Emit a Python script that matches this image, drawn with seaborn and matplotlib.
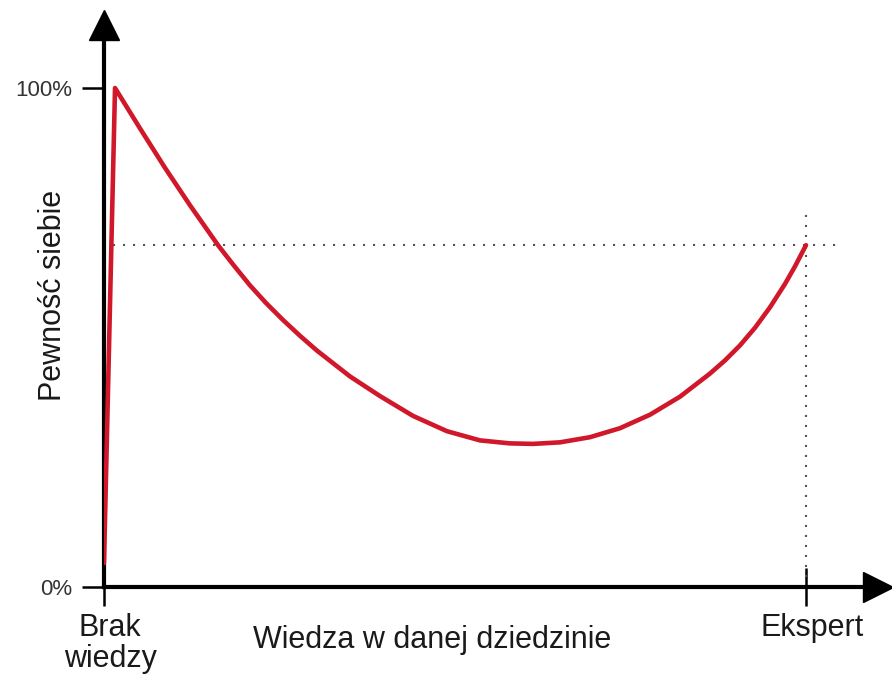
import matplotlib
matplotlib.use("Agg")
import matplotlib.pyplot as plt
import matplotlib.transforms as mtransforms
import seaborn as sns
import pandas as pd

# --- data ---
wiedza = [0, 1.57, 5.13, 8.69, 12.25, 16.24, 18.52, 20.80, 23.08, 25.50,
          27.92, 30.34, 35.04, 39.32, 44.02, 48.86, 53.56, 57.83, 61.11,
          64.96, 69.23, 73.50, 77.78, 82.05, 86.32, 88.46, 90.60, 92.74,
          94.87, 97.01, 98.43, 100]
pewnosc = [4.8, 100.0, 91.9, 84.0, 76.5, 68.5, 64.39, 60.44, 56.91, 53.51,
           50.34, 47.37, 42.2, 38.26, 34.29, 31.22, 29.38, 28.78, 28.68,
           28.99, 30.02, 31.82, 34.53, 38.14, 42.77, 45.41, 48.42, 51.96,
           56.05, 60.74, 64.25, 68.5]

x_tick_pos = [0, 100]
x_tick_labels = ["Brak\nwiedzy", "Ekspert"]
y_tick_pos = [0, 100]
y_tick_labels = ["0%", "100%"]
expert_level = 68.5
x_label = "Wiedza w danej dziedzinie"
y_label = "Pewność siebie"

sns.set_theme(style="white")
plt.rcParams["font.family"] = ["Liberation Sans", "DejaVu Sans"]

W, H = 892, 679
fig = plt.figure(figsize=(W / 100, H / 100), dpi=100)
ax = fig.add_axes([104 / W, 1 - 587 / H, (878 - 104) / W, (587 - 25) / H])

df = pd.DataFrame({"wiedza": wiedza, "pewnosc": pewnosc})
sns.lineplot(data=df, x="wiedza", y="pewnosc", sort=False, color="#d0182a",
             lw=3.3, ax=ax, solid_joinstyle="round", zorder=3)

ax.set_xlim(0, (878 - 104) / 7.02)
ax.set_ylim(0, (587 - 25) / 4.99)

# dotted guide lines
dot = (0, (1, 3.8))
ax.plot([1.3, (842 - 104) / 7.02], [expert_level, expert_level],
        ls=dot, color="#555555", lw=1.5, zorder=2)
ax.plot([x_tick_pos[1], x_tick_pos[1]], [0, (587 - 210) / 4.99],
        ls=dot, color="#555555", lw=1.5, zorder=2)

# spines and arrows
for s in ["top", "right"]:
    ax.spines[s].set_visible(False)
for s in ["left", "bottom"]:
    ax.spines[s].set_linewidth(3)
    ax.spines[s].set_color("black")
    ax.spines[s].set_zorder(2)
ax.plot(1, 0, ">", color="black", ms=21, transform=ax.transAxes, clip_on=False)
ax.plot(0, 1, "^", color="black", ms=21, transform=ax.transAxes, clip_on=False)

# ticks
ax.set_xticks(x_tick_pos, x_tick_labels)
ax.set_yticks(y_tick_pos, y_tick_labels)
ax.tick_params(axis="x", bottom=True, direction="inout", length=27, width=1.8,
               color="black", pad=5, labelsize=22, labelcolor="#1a1a1a")
ax.tick_params(axis="y", left=True, direction="out", length=16, width=1.8,
               color="black", pad=7, labelsize=16, labelcolor="#333333")
offset = mtransforms.ScaledTranslation(6 / 100, 0, fig.dpi_scale_trans)
for lab in ax.get_xticklabels():
    lab.set_transform(lab.get_transform() + offset)
    lab.set_linespacing(1.05)

ax.set_xlabel(x_label, fontsize=22, color="#1a1a1a")
ax.set_ylabel(y_label, fontsize=22, color="#1a1a1a")
ax.xaxis.set_label_coords((432 - 104) / 774, (587 - 625) / 562)
ax.yaxis.set_label_coords((68 - 104) / 774, (587 - 295) / 562)

fig.savefig("out.png", dpi=100, facecolor="white")
